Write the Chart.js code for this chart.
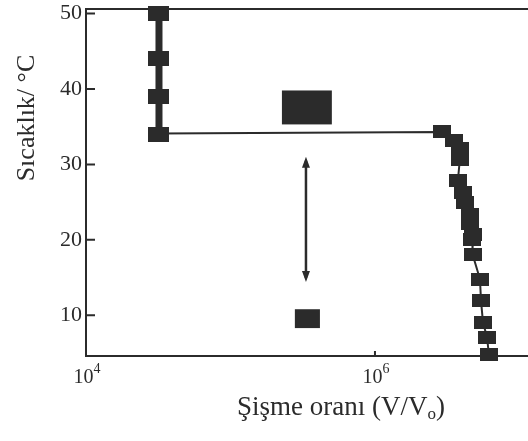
<!DOCTYPE html>
<html lang="tr">
<head>
<meta charset="utf-8">
<script src="https://cdn.jsdelivr.net/npm/chart.js@4/dist/chart.umd.min.js"></script>
<style>
  html, body { margin: 0; padding: 0; background: #fff; overflow: hidden; }
</style>
</head>
<body>
<canvas id="grafik" width="528" height="441"></canvas>
<script>
// Sol kol: düşük sıcaklıktan yüksek sıcaklığa büzülmüş jel
const solX = [3.2e4, 3.2e4, 3.2e4, 3.2e4];
const solT = [50, 44, 39, 34];

// Sağ kol: şişmiş jel (ilk nokta yalnızca yatay çizginin başlangıcı)
const sagX = [3.2e4, 2.9e6, 3.5e6, 3.87e6, 3.87e6, 3.75e6, 4.06e6, 4.2e6, 4.54e6, 4.54e6,
              4.76e6, 4.7e6, 4.76e6, 5.33e6, 5.42e6, 5.59e6, 5.96e6, 6.15e6];
const sagT = [34.1, 34.3, 33.2, 32.1, 30.7, 27.9, 26.3, 25.0, 23.3, 22.1,
              20.7, 20.0, 18.1, 14.8, 11.9, 9.1, 7.1, 4.8];

// Eksen değerleri
const xSinir = [1e4, 1.146e7];
const ySinir = [4.6, 50.6];
const xEtiketleri = [1e4, 1e6];
const yEtiketleri = [10, 20, 30, 40, 50];

// Şekil üzerindeki jel kutuları ve ok (veri biriminde)
const buyukKutuX = [2.27e5, 5.03e5];
const buyukKutuT = [35.3, 39.8];
const kucukKutuX = [2.79e5, 4.16e5];
const kucukKutuT = [8.3, 10.8];
const okX = 3.33e5;
const okT = [14.4, 31.0];

const KOYU = '#2b2b2b';
const YAZI = "'Liberation Serif', 'Times New Roman', serif";

function isaretci(g, y) {
    const c = document.createElement('canvas');
    c.width = g; c.height = y;
    const cx = c.getContext('2d');
    cx.fillStyle = KOYU;
    cx.fillRect(0, 0, g, y);
    return c;
}
const buyukIsaret = isaretci(21, 15);
const kucukIsaret = isaretci(18, 13);

const noktalar = (xs, ys) => xs.map((v, i) => ({ x: v, y: ys[i] }));

const cizimler = {
    id: 'cizimler',
    beforeDatasetsDraw(chart) {
        const { ctx, scales: { x, y } } = chart;
        ctx.save();
        ctx.fillStyle = KOYU;
        for (const [kx, kt] of [[buyukKutuX, buyukKutuT], [kucukKutuX, kucukKutuT]]) {
            const x0 = x.getPixelForValue(kx[0]), x1 = x.getPixelForValue(kx[1]);
            const y0 = y.getPixelForValue(kt[1]), y1 = y.getPixelForValue(kt[0]);
            ctx.fillRect(x0, y0, x1 - x0, y1 - y0);
        }
        // çift yönlü ok
        const ax = x.getPixelForValue(okX);
        const ay0 = y.getPixelForValue(okT[1]), ay1 = y.getPixelForValue(okT[0]);
        ctx.strokeStyle = KOYU;
        ctx.lineWidth = 2.5;
        ctx.beginPath(); ctx.moveTo(ax, ay0 + 4); ctx.lineTo(ax, ay1 - 4); ctx.stroke();
        ctx.beginPath();
        ctx.moveTo(ax, ay0); ctx.lineTo(ax - 4, ay0 + 11); ctx.lineTo(ax + 4, ay0 + 11); ctx.closePath();
        ctx.moveTo(ax, ay1); ctx.lineTo(ax - 4, ay1 - 11); ctx.lineTo(ax + 4, ay1 - 11); ctx.closePath();
        ctx.fill();
        ctx.restore();
    },
    afterDraw(chart) {
        const { ctx, chartArea: a, scales: { x, y } } = chart;
        ctx.save();
        ctx.strokeStyle = KOYU;
        ctx.lineWidth = 2;
        // üst çerçeve
        ctx.beginPath(); ctx.moveTo(a.left - 1, a.top); ctx.lineTo(a.right, a.top); ctx.stroke();
        // içe dönük çentikler
        ctx.beginPath();
        yEtiketleri.forEach((t) => {
            const py = y.getPixelForValue(t);
            ctx.moveTo(a.left, py); ctx.lineTo(a.left + 9, py);
        });
        xEtiketleri.forEach((v) => {
            const px = x.getPixelForValue(v);
            ctx.moveTo(px, a.bottom); ctx.lineTo(px, a.bottom - 5);
        });
        ctx.stroke();

        ctx.fillStyle = KOYU;
        ctx.textBaseline = 'alphabetic';

        // x etiketleri: 10 üzeri üs
        xEtiketleri.forEach((v) => {
            const us = String(Math.round(Math.log10(v)));
            ctx.font = `20px ${YAZI}`;
            const w10 = ctx.measureText('10').width;
            ctx.font = `14px ${YAZI}`;
            const wUs = ctx.measureText(us).width;
            let px = x.getPixelForValue(v) - (w10 + wUs) / 2 + 1;
            ctx.font = `20px ${YAZI}`;
            ctx.fillText('10', px, a.bottom + 27);
            ctx.font = `14px ${YAZI}`;
            ctx.fillText(us, px + w10, a.bottom + 17);
        });

        // eksen başlıkları
        ctx.font = `27px ${YAZI}`;
        const bas = 'Şişme oranı (V/V';
        const son = ')';
        const wBas = ctx.measureText(bas).width;
        const wSon = ctx.measureText(son).width;
        ctx.font = `17px ${YAZI}`;
        const wAlt = ctx.measureText('o').width;
        let px = 341 - (wBas + wAlt + wSon) / 2;
        const by = 415;
        ctx.font = `27px ${YAZI}`;
        ctx.fillText(bas, px, by); px += wBas;
        ctx.font = `17px ${YAZI}`;
        ctx.fillText('o', px, by + 4); px += wAlt;
        ctx.font = `27px ${YAZI}`;
        ctx.fillText(son, px, by);

        ctx.font = `26px ${YAZI}`;
        ctx.translate(34, 118);
        ctx.rotate(-Math.PI / 2);
        ctx.textAlign = 'center';
        ctx.fillText('Sıcaklık/ °C', 0, 0);
        ctx.restore();
    },
};

new Chart(document.getElementById('grafik'), {
    type: 'scatter',
    data: {
        datasets: [
            {
                label: 'sol',
                data: noktalar(solX, solT),
                showLine: true,
                borderColor: KOYU,
                borderWidth: 7,
                pointStyle: buyukIsaret,
                pointRadius: 8,
                clip: false,
            },
            {
                label: 'sağ',
                data: noktalar(sagX, sagT),
                showLine: true,
                borderColor: KOYU,
                borderWidth: 2,
                pointStyle: sagX.map((_, i) => (i === 0 ? false : kucukIsaret)),
                pointRadius: 7,
                clip: false,
            },
        ],
    },
    options: {
        responsive: false,
        animation: false,
        events: [],
        layout: { autoPadding: false, padding: { left: 0, top: 9, right: 0, bottom: 0 } },
        plugins: {
            legend: { display: false },
            tooltip: { enabled: false },
        },
        scales: {
            x: {
                type: 'logarithmic',
                min: xSinir[0],
                max: xSinir[1],
                afterBuildTicks: (s) => { s.ticks = xEtiketleri.map((v) => ({ value: v })); },
                afterFit: (s) => { s.height = 85; s.paddingLeft = 0; s.paddingRight = 0; },
                grid: { drawOnChartArea: false, drawTicks: false },
                border: { display: true, color: KOYU, width: 2 },
                ticks: { display: false },
            },
            y: {
                min: ySinir[0],
                max: ySinir[1],
                afterBuildTicks: (s) => { s.ticks = yEtiketleri.map((v) => ({ value: v })); },
                afterFit: (s) => { s.width = 86; s.paddingTop = 0; s.paddingBottom = 0; },
                grid: { drawOnChartArea: false, drawTicks: false },
                border: { display: true, color: KOYU, width: 2 },
                ticks: {
                    padding: 4,
                    color: KOYU,
                    font: { family: YAZI, size: 22 },
                },
            },
        },
    },
    plugins: [cizimler],
});
</script>
</body>
</html>
